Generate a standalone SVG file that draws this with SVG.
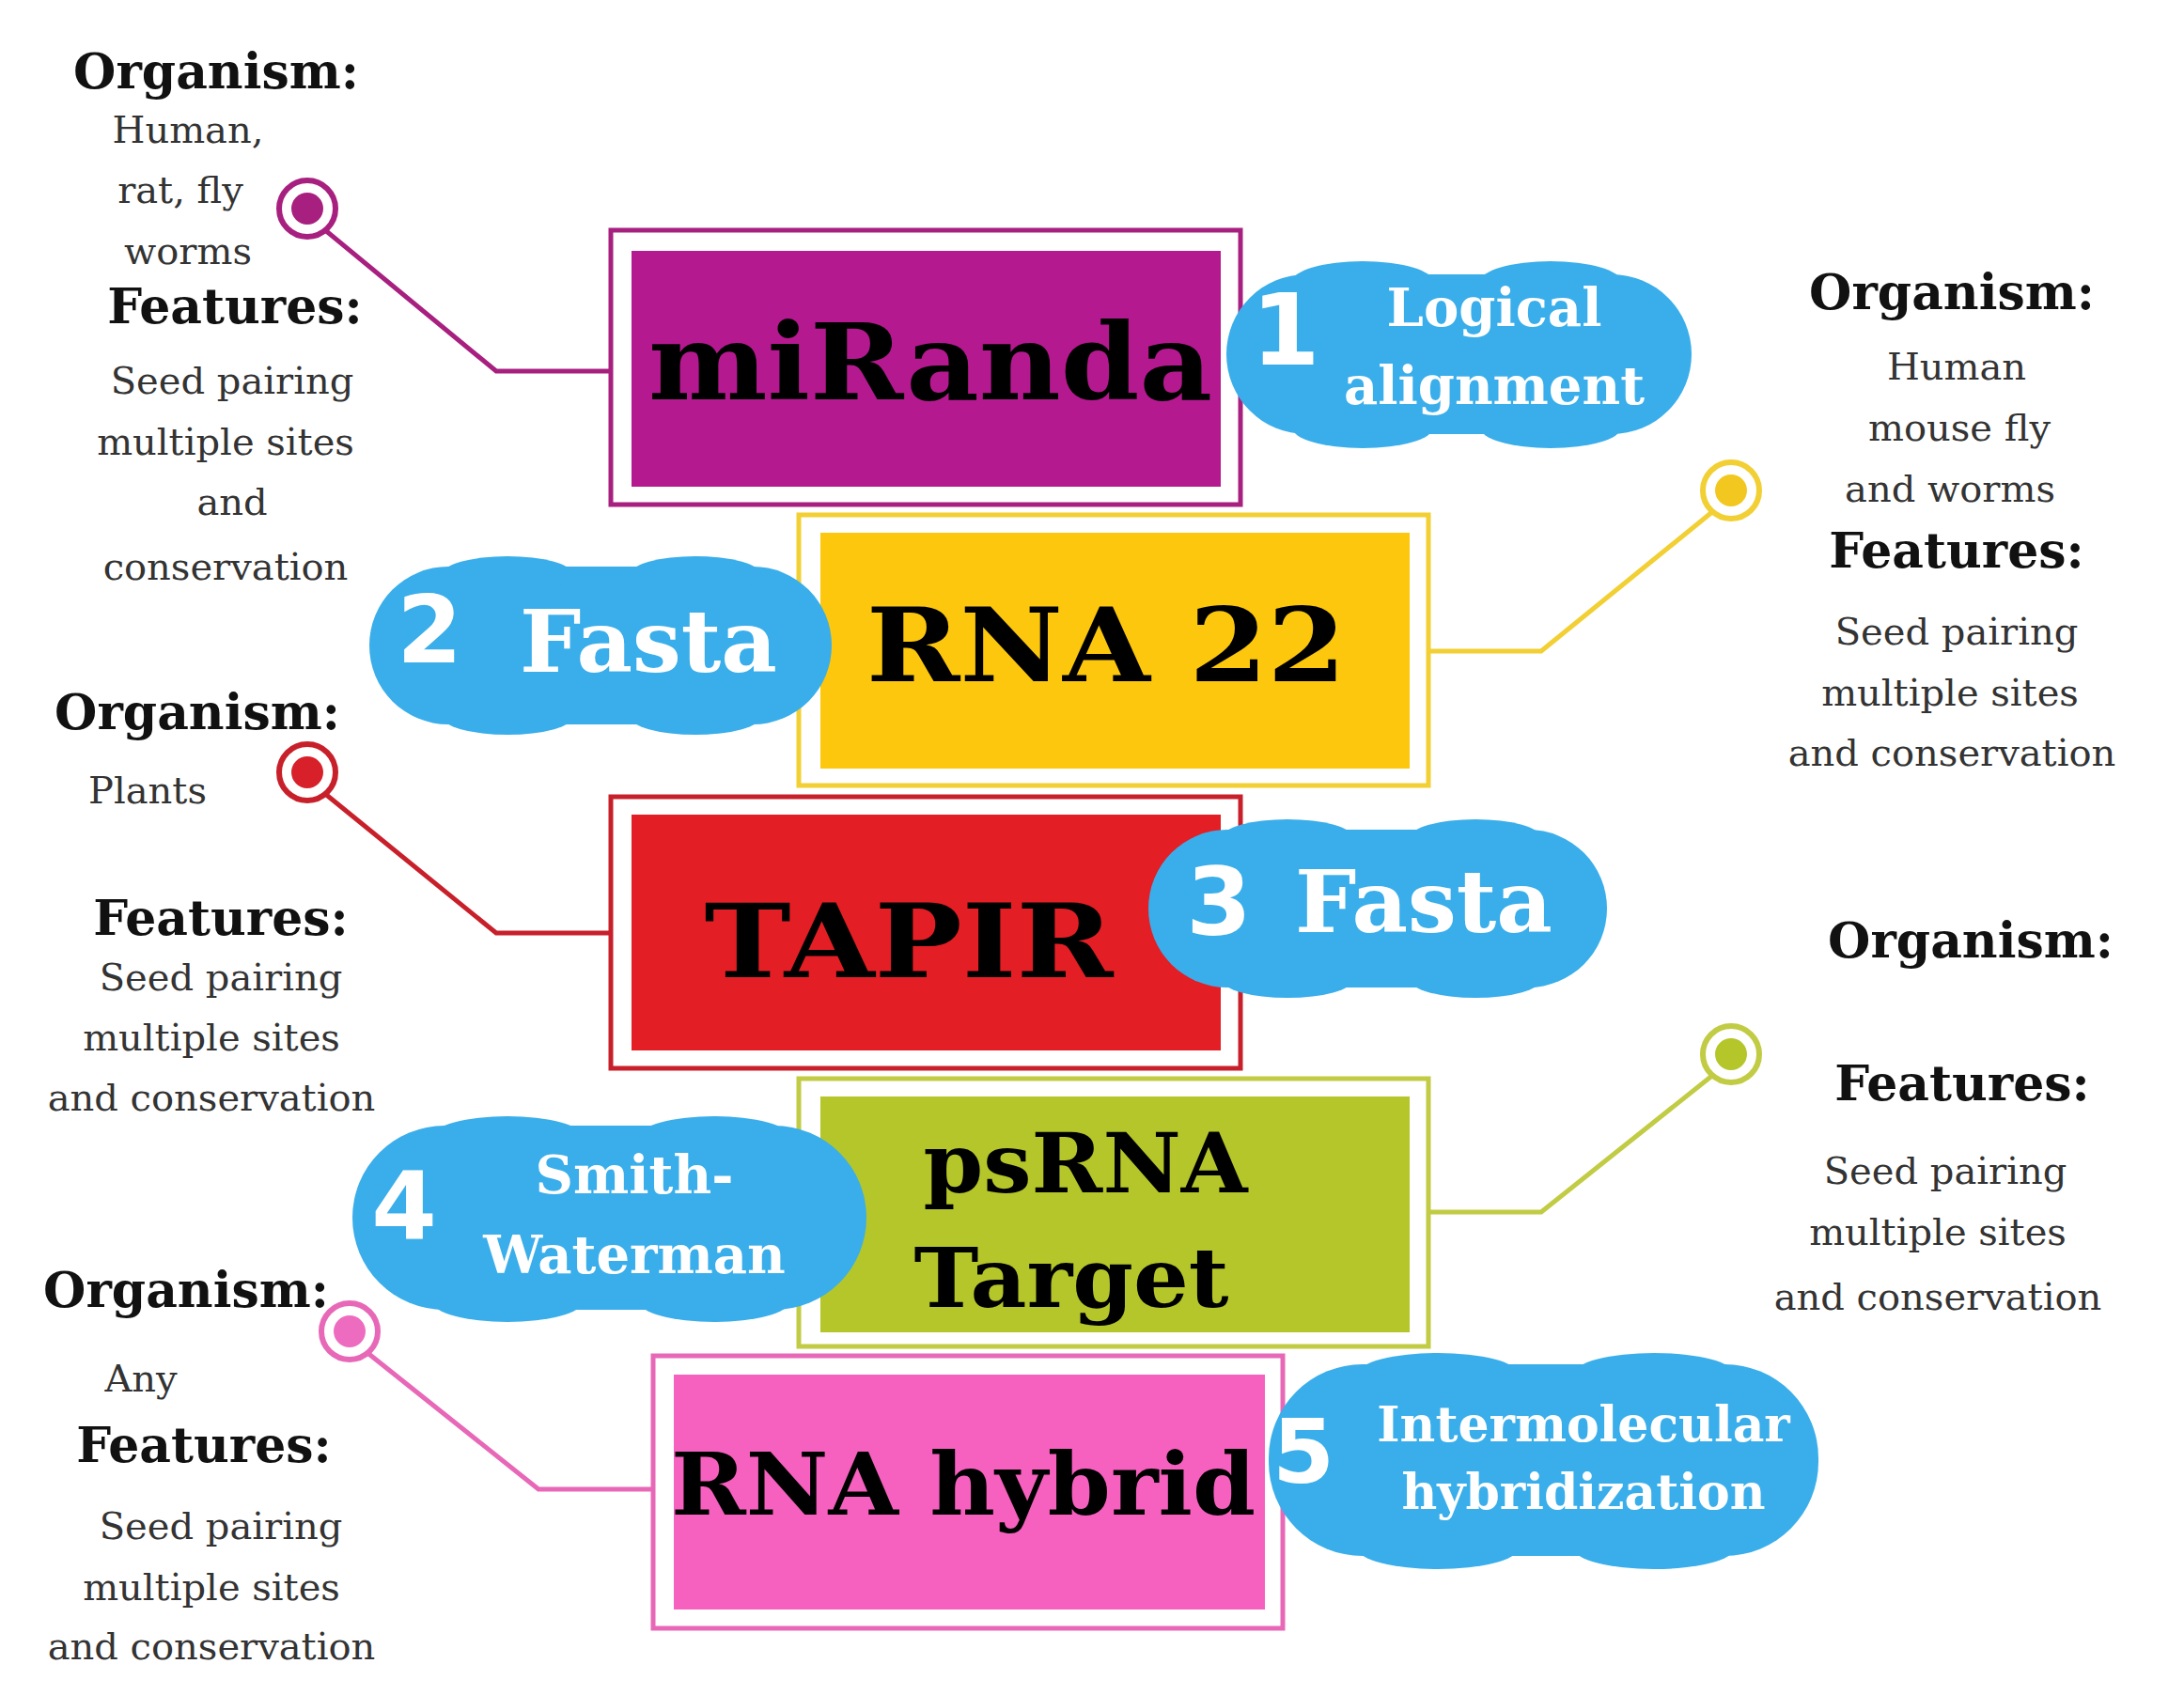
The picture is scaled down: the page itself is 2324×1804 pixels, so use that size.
<svg xmlns="http://www.w3.org/2000/svg" width="2324" height="1804" viewBox="0 0 2324 1804">
<style>
text{font-family:"DejaVu Serif","Liberation Serif",serif;text-anchor:middle;dominant-baseline:central}
.b{font-weight:bold;font-size:52px;fill:#111}
.r{font-size:40px;fill:#333}
.t{font-weight:bold;fill:#000}
.w{font-weight:bold;fill:#fff;font-family:"DejaVu Sans","Liberation Sans",sans-serif}
.ws{font-weight:bold;fill:#fff;font-size:56px}
.blob{fill:#3aaeea}
.ln{fill:none;stroke-width:5}
</style>
<rect width="2324" height="1804" fill="#fff"/>
<g id="connectors">
<path class="ln" stroke="#a8207f" d="M340,240 L528,395 L650,395"/>
<circle cx="327" cy="222" r="30" fill="#fff" stroke="#a8207f" stroke-width="6"/><circle cx="327" cy="222" r="17" fill="#a8207f"/>
<path class="ln" stroke="#f2cf33" d="M1828,540 L1640,693 L1520,693"/>
<circle cx="1842" cy="522" r="30" fill="#fff" stroke="#f2cf33" stroke-width="6"/><circle cx="1842" cy="522" r="17" fill="#f2c820"/>
<path class="ln" stroke="#c8202a" d="M340,840 L528,993 L650,993"/>
<circle cx="327" cy="822" r="30" fill="#fff" stroke="#c8202a" stroke-width="6"/><circle cx="327" cy="822" r="17" fill="#d8202a"/>
<path class="ln" stroke="#c1cc44" d="M1828,1140 L1640,1290 L1520,1290"/>
<circle cx="1842" cy="1122" r="30" fill="#fff" stroke="#c1cc44" stroke-width="6"/><circle cx="1842" cy="1122" r="17" fill="#b5c62a"/>
<path class="ln" stroke="#e868b8" d="M385,1435 L573,1585 L695,1585"/>
<circle cx="372" cy="1417" r="30" fill="#fff" stroke="#e868b8" stroke-width="6"/><circle cx="372" cy="1417" r="17" fill="#ee6cc0"/>
</g>
<g id="miRanda">
<rect x="650" y="245" width="670" height="292" fill="#fff" stroke="#a8207f" stroke-width="5"/>
<rect x="672" y="267" width="627" height="251" fill="#b5198f"/>
<text class="t" x="990" y="385" font-size="112" textLength="600" lengthAdjust="spacingAndGlyphs">miRanda</text>
</g>
<g id="rna22">
<rect x="850" y="548" width="670" height="288" fill="#fff" stroke="#f2cf33" stroke-width="5"/>
<rect x="873" y="567" width="627" height="251" fill="#fcc70c"/>
<text class="t" x="1177" y="687" font-size="108" textLength="510" lengthAdjust="spacingAndGlyphs">RNA 22</text>
</g>
<g id="tapir">
<rect x="650" y="848" width="670" height="289" fill="#fff" stroke="#c8202a" stroke-width="5"/>
<rect x="672" y="867" width="627" height="251" fill="#e31e24"/>
<text class="t" x="967" y="1002" font-size="108" textLength="435" lengthAdjust="spacingAndGlyphs">TAPIR</text>
</g>
<g id="psrna">
<rect x="850" y="1148" width="670" height="285" fill="#fff" stroke="#c1cc44" stroke-width="5"/>
<rect x="873" y="1167" width="627" height="251" fill="#b5c62a"/>
<text class="t" x="1155" y="1238" font-size="88" textLength="345" lengthAdjust="spacingAndGlyphs">psRNA</text>
<text class="t" x="1140" y="1360" font-size="88" textLength="335" lengthAdjust="spacingAndGlyphs">Target</text>
</g>
<g id="rnahybrid">
<rect x="695" y="1443" width="670" height="290" fill="#fff" stroke="#e868b8" stroke-width="5"/>
<rect x="717" y="1463" width="629" height="250" fill="#f660bf"/>
<text class="t" x="1025" y="1580" font-size="92" textLength="622" lengthAdjust="spacingAndGlyphs">RNA hybrid</text>
</g>
<g id="blob1">
<rect class="blob" x="1305" y="292" width="495" height="170" rx="85"/>
<ellipse class="blob" cx="1450" cy="300" rx="75" ry="22"/><ellipse class="blob" cx="1650" cy="300" rx="75" ry="22"/><ellipse class="blob" cx="1450" cy="455" rx="75" ry="22"/><ellipse class="blob" cx="1650" cy="455" rx="75" ry="22"/>
<text class="w" x="1368" y="352" font-size="105">1</text>
<text class="ws" x="1590" y="327">Logical</text><text class="ws" x="1590" y="410">alignment</text>
</g>
<g id="blob2">
<rect class="blob" x="393" y="603" width="492" height="168" rx="84"/>
<ellipse class="blob" cx="540" cy="612" rx="70" ry="20"/><ellipse class="blob" cx="740" cy="612" rx="70" ry="20"/><ellipse class="blob" cx="540" cy="762" rx="70" ry="20"/><ellipse class="blob" cx="740" cy="762" rx="70" ry="20"/>
<text class="w" x="457" y="670" font-size="100">2</text>
<text class="ws" x="690" y="683" style="font-size:92px">Fasta</text>
</g>
<g id="blob3">
<rect class="blob" x="1222" y="883" width="488" height="168" rx="84"/>
<ellipse class="blob" cx="1370" cy="892" rx="70" ry="20"/><ellipse class="blob" cx="1570" cy="892" rx="70" ry="20"/><ellipse class="blob" cx="1370" cy="1042" rx="70" ry="20"/><ellipse class="blob" cx="1570" cy="1042" rx="70" ry="20"/>
<text class="w" x="1297" y="960" font-size="100">3</text>
<text class="ws" x="1515" y="960" style="font-size:92px">Fasta</text>
</g>
<g id="blob4">
<rect class="blob" x="375" y="1198" width="547" height="196" rx="98"/>
<ellipse class="blob" cx="540" cy="1210" rx="80" ry="22"/><ellipse class="blob" cx="760" cy="1210" rx="80" ry="22"/><ellipse class="blob" cx="540" cy="1385" rx="80" ry="22"/><ellipse class="blob" cx="760" cy="1385" rx="80" ry="22"/>
<text class="w" x="430" y="1283" font-size="100">4</text>
<text class="ws" x="675" y="1250">Smith-</text><text class="ws" x="675" y="1335">Waterman</text>
</g>
<g id="blob5">
<rect class="blob" x="1350" y="1452" width="585" height="204" rx="100"/>
<ellipse class="blob" cx="1530" cy="1462" rx="85" ry="22"/><ellipse class="blob" cx="1760" cy="1462" rx="85" ry="22"/><ellipse class="blob" cx="1530" cy="1648" rx="85" ry="22"/><ellipse class="blob" cx="1760" cy="1648" rx="85" ry="22"/>
<text class="w" x="1387" y="1545" font-size="95">5</text>
<text class="ws" x="1685" y="1515" style="font-size:52px">Intermolecular</text><text class="ws" x="1685" y="1587" style="font-size:52px">hybridization</text>
</g>
<g id="info-mirna">
<text class="b" x="230" y="75">Organism:</text>
<text class="r" x="200" y="138">Human,</text><text class="r" x="192" y="202">rat, fly</text><text class="r" x="200" y="267">worms</text>
<text class="b" x="250" y="325">Features:</text>
<text class="r" x="247" y="405">Seed pairing</text><text class="r" x="240" y="470">multiple sites</text><text class="r" x="247" y="534">and</text><text class="r" x="240" y="603">conservation</text>
</g>
<g id="info-rna22">
<text class="b" x="2077" y="310">Organism:</text>
<text class="r" x="2082" y="390">Human</text><text class="r" x="2085" y="455">mouse fly</text><text class="r" x="2075" y="520">and worms</text>
<text class="b" x="2082" y="585">Features:</text>
<text class="r" x="2082" y="672">Seed pairing</text><text class="r" x="2075" y="737">multiple sites</text><text class="r" x="2077" y="801">and conservation</text>
</g>
<g id="info-tapir">
<text class="b" x="210" y="757">Organism:</text>
<text class="r" x="157" y="841">Plants</text>
<text class="b" x="235" y="976">Features:</text>
<text class="r" x="235" y="1040">Seed pairing</text><text class="r" x="225" y="1104">multiple sites</text><text class="r" x="225" y="1168">and conservation</text>
</g>
<g id="info-psrna">
<text class="b" x="2097" y="1000">Organism:</text>
<text class="b" x="2088" y="1152">Features:</text>
<text class="r" x="2070" y="1246">Seed pairing</text><text class="r" x="2062" y="1311">multiple sites</text><text class="r" x="2062" y="1380">and conservation</text>
</g>
<g id="info-hybrid">
<text class="b" x="198" y="1372">Organism:</text>
<text class="r" x="150" y="1467">Any</text>
<text class="b" x="217" y="1537">Features:</text>
<text class="r" x="235" y="1624">Seed pairing</text><text class="r" x="225" y="1689">multiple sites</text><text class="r" x="225" y="1752">and conservation</text>
</g>
</svg>
